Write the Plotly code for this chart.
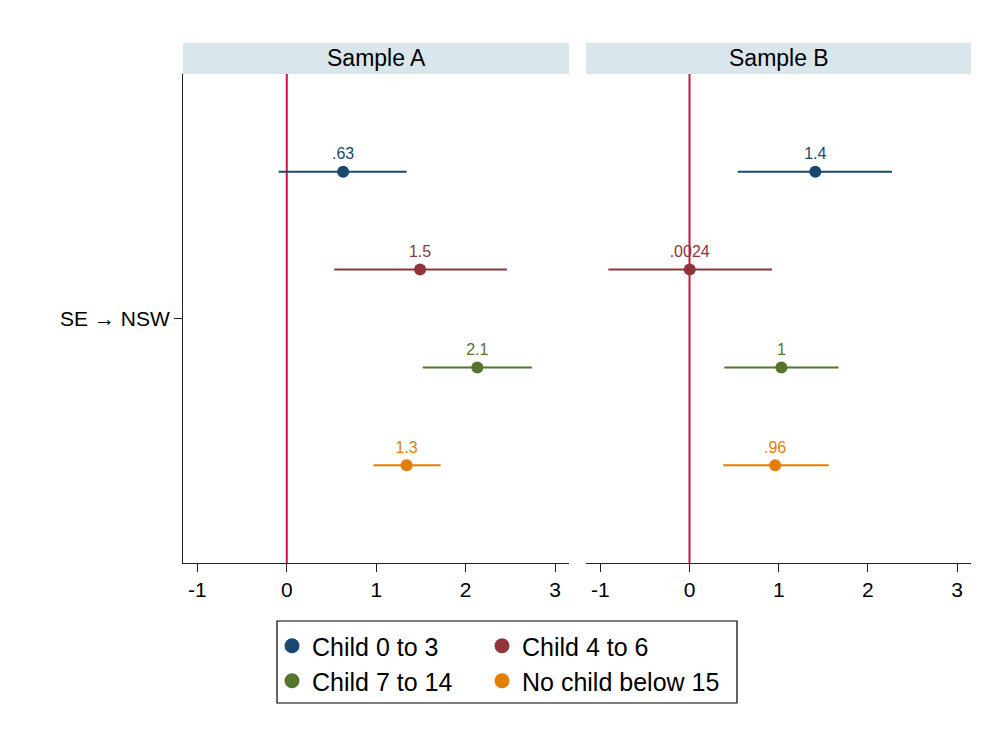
import plotly.graph_objects as go

# ---------------- data ----------------
groups = ["Child 0 to 3", "Child 4 to 6", "Child 7 to 14", "No child below 15"]
colors = ["#1a476f", "#90353b", "#55752f", "#e37e00"]
panels = ["Sample A", "Sample B"]
category = "SE → NSW"

coef_a = [0.63, 1.49, 2.13, 1.34]
lo_a = [-0.09, 0.53, 1.52, 0.97]
hi_a = [1.34, 2.46, 2.74, 1.72]
label_a = [".63", "1.5", "2.1", "1.3"]

coef_b = [1.41, 0.0024, 1.03, 0.96]
lo_b = [0.54, -0.91, 0.39, 0.38]
hi_b = [2.27, 0.925, 1.67, 1.56]
label_b = ["1.4", ".0024", "1", ".96"]

xticks = [-1, 0, 1, 2, 3]
xticklabels = ["-1", "0", "1", "2", "3"]

# ---------------- layout helpers ----------------
W, H = 992, 731
def fx(p):
    return p / W
def fy(p):
    return 1 - p / H

FONT = "Liberation Sans, Arial, sans-serif"
panel_px = [(183, 569), (586, 971)]
plot_top, plot_bot = 74, 563
strip_top = 43
n = len(groups)
ypos = [(n - 1) / 2 - i for i in range(n)]  # 1.5, 0.5, -0.5, -1.5

fig = go.Figure()
data = [(coef_a, lo_a, hi_a, label_a), (coef_b, lo_b, hi_b, label_b)]

for p, (coef, lo, hi, lab) in enumerate(data):
    xa = "x" if p == 0 else "x2"
    ya = "y" if p == 0 else "y2"
    for i in range(n):
        fig.add_trace(go.Scatter(
            x=[coef[i]], y=[ypos[i]], xaxis=xa, yaxis=ya,
            mode="markers+text", text=[lab[i]], textposition="top center",
            textfont=dict(family=FONT, size=16, color=colors[i]),
            marker=dict(size=12, color=colors[i]),
            error_x=dict(type="data", symmetric=False,
                         array=[hi[i] - coef[i]], arrayminus=[coef[i] - lo[i]],
                         width=0, thickness=2, color=colors[i]),
            showlegend=False, hoverinfo="skip", cliponaxis=False,
        ))

# legend-only traces: one legend per cell of a 2x2 grid
leg_names = ["legend", "legend2", "legend3", "legend4"]
for i in range(n):
    fig.add_trace(go.Scatter(
        x=[None], y=[None], mode="markers", name=groups[i],
        marker=dict(size=15, color=colors[i]), showlegend=True,
        legend=leg_names[i],
    ))

axis_common = dict(range=[-1.16, 3.155], tickvals=xticks, ticktext=xticklabels,
                   ticks="outside", ticklen=8, tickwidth=1, tickcolor="#222",
                   showline=True, linecolor="#222", linewidth=1,
                   showgrid=False, zeroline=False,
                   tickfont=dict(family=FONT, size=21, color="black"))

leg_common = dict(orientation="h", xanchor="left", yanchor="middle",
                  bgcolor="rgba(0,0,0,0)", borderwidth=0,
                  font=dict(family=FONT, size=25, color="black"),
                  itemclick=False, itemdoubleclick=False)

leg_cols = [272, 482]
leg_rows = [646, 681]
legend_layout = {}
for i in range(n):
    legend_layout[leg_names[i]] = dict(x=fx(leg_cols[i % 2]), y=fy(leg_rows[i // 2]),
                                       **leg_common)

fig.update_layout(
    width=W, height=H,
    margin=dict(l=0, r=0, t=0, b=0),
    paper_bgcolor="white", plot_bgcolor="white",
    xaxis=dict(domain=[fx(panel_px[0][0]), fx(panel_px[0][1])], anchor="y", **axis_common),
    xaxis2=dict(domain=[fx(panel_px[1][0]), fx(panel_px[1][1])], anchor="y2", **axis_common),
    yaxis=dict(domain=[fy(plot_bot), fy(plot_top)], range=[-2.5, 2.5], anchor="x",
               tickvals=[0], ticktext=[category], ticks="outside", ticklen=8,
               tickcolor="#222", showline=True, linecolor="#222", linewidth=1,
               showgrid=False, zeroline=False,
               tickfont=dict(family=FONT, size=21, color="black")),
    yaxis2=dict(domain=[fy(plot_bot), fy(plot_top)], range=[-2.5, 2.5], anchor="x2",
                showticklabels=False, ticks="", showline=False,
                showgrid=False, zeroline=False),
    showlegend=True,
    **legend_layout,
)

shapes = []
annotations = []
for p, (x0, x1) in enumerate(panel_px):
    shapes.append(dict(type="rect", xref="paper", yref="paper",
                       x0=fx(x0), x1=fx(x1), y0=fy(plot_top), y1=fy(strip_top),
                       fillcolor="#d9e6eb", line=dict(width=0), layer="below"))
    annotations.append(dict(text=panels[p], xref="paper", yref="paper",
                            x=fx((x0 + x1) / 2), y=fy((plot_top + strip_top) / 2),
                            xanchor="center", yanchor="middle", showarrow=False,
                            font=dict(family=FONT, size=23, color="black")))
    xr = "x" if p == 0 else "x2"
    yr = "y domain" if p == 0 else "y2 domain"
    shapes.append(dict(type="line", xref=xr, yref=yr, x0=0, x1=0, y0=0, y1=1,
                       line=dict(color="#c8163c", width=2), layer="below"))

# legend frame
shapes.append(dict(type="rect", xref="paper", yref="paper",
                   x0=fx(277), x1=fx(737), y0=fy(703), y1=fy(621),
                   line=dict(color="black", width=1.2), fillcolor="rgba(0,0,0,0)",
                   layer="below"))

fig.update_layout(shapes=shapes, annotations=annotations)
fig.write_html("out.html")
